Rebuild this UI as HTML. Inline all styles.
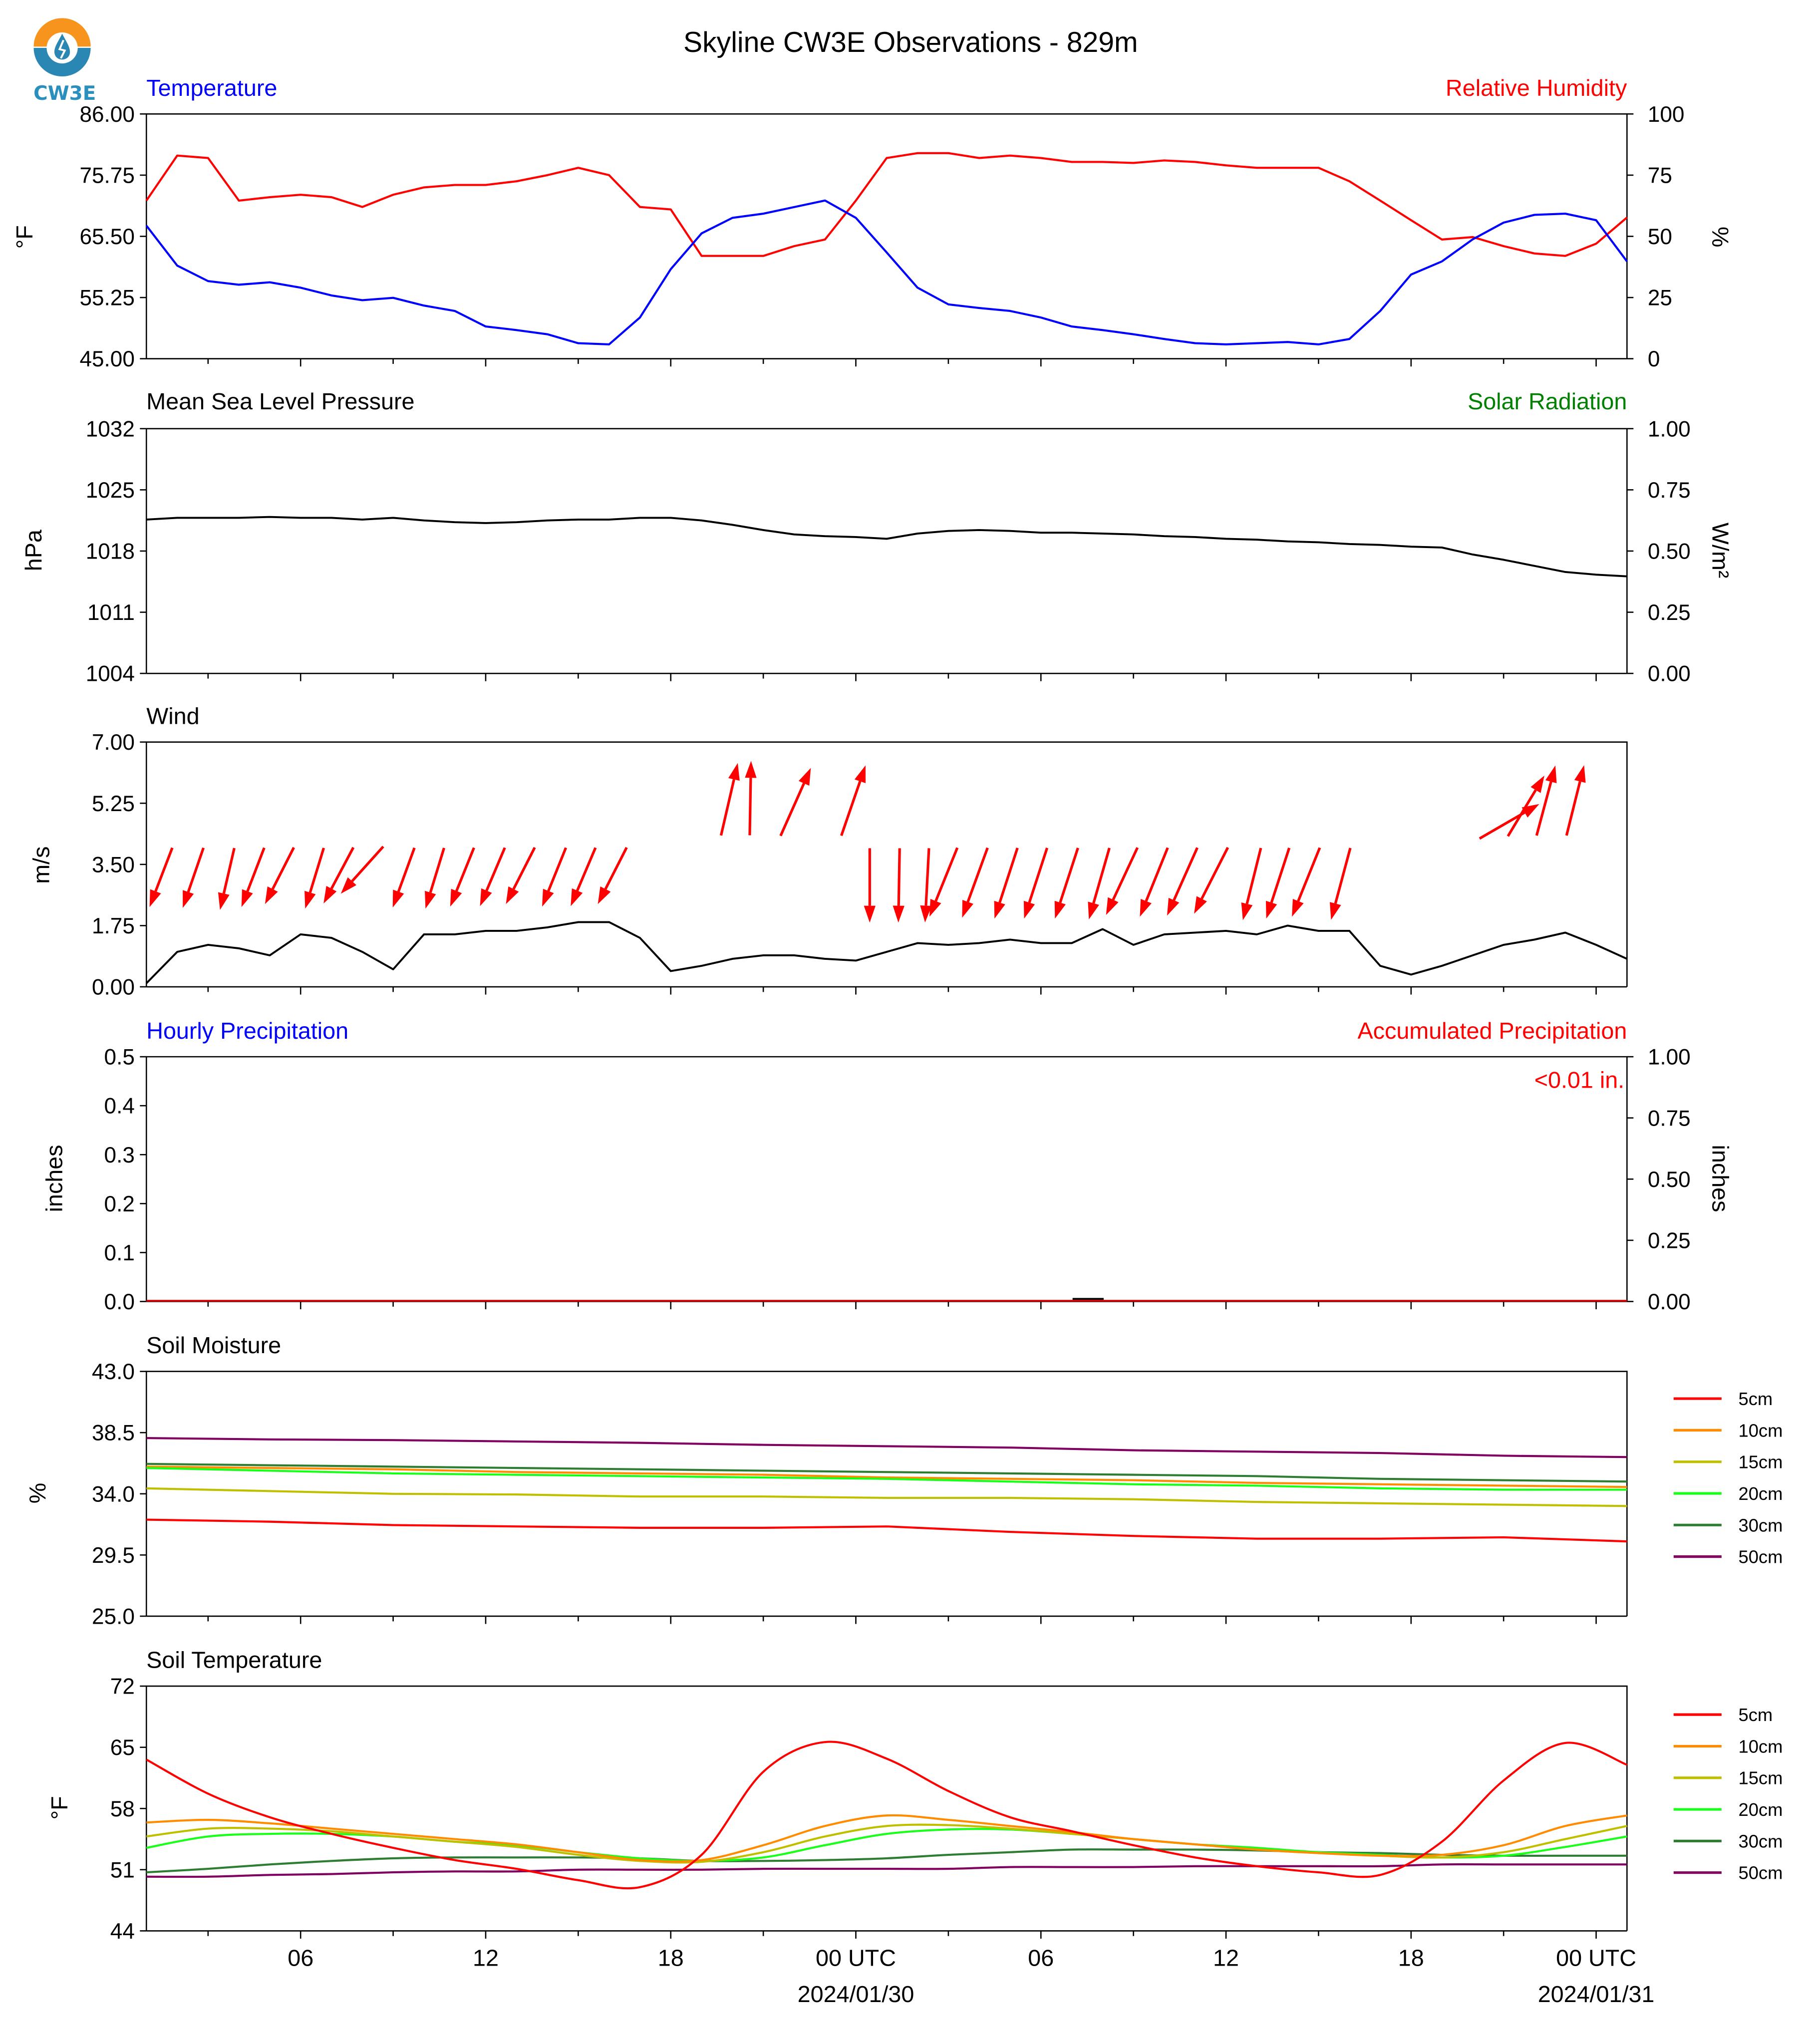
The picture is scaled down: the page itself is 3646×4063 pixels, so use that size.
<!DOCTYPE html>
<html><head><meta charset="utf-8"><style>
html,body{margin:0;padding:0;background:#fff}
svg{display:block;font-family:"Liberation Sans",sans-serif}
</style></head><body>
<svg id="chart" width="3646" height="4063" viewBox="0 0 1405 1566" preserveAspectRatio="none" xmlns="http://www.w3.org/2000/svg">
<rect x="0" y="0" width="1405" height="1566" fill="#fff"/>
<g>
<path d="M26,36 A22,22 0 0 1 70,36 Z" fill="#f7941d"/>
<path d="M26,37 A22,22 0 0 0 70,37 Z" fill="#2a86b3"/>
<circle cx="48" cy="37" r="12" fill="#fff"/>
<path d="M48,26 C45,32 42,36 42,40 C42,44 45,46 48,46 C51,46 54,44 54,40 C54,36 51,32 48,26 Z" fill="#2a86b3"/>
<path d="M49,31 L46,38 L50,39 L47,45" stroke="#fff" stroke-width="1.5" fill="none"/>
<text x="50" y="77" font-size="15" font-weight="bold" fill="#2a8fbd" text-anchor="middle" font-family="'DejaVu Sans',sans-serif">CW3E</text>
</g>
<text x="703" y="40" font-size="22" text-anchor="middle">Skyline CW3E Observations - 829m</text>
<g id="plots"></g>
</svg>
<script>
// ---- data (hourly, starting 2024/01/29 01 UTC) ----
const tempF = [67.3,60.6,58.0,57.4,57.8,56.9,55.6,54.8,55.2,53.9,53.0,50.4,49.8,49.1,47.6,47.4,51.9,60.0,66.0,68.6,69.3,70.4,71.5,68.6,62.8,56.9,54.1,53.5,53.0,51.9,50.4,49.8,49.1,48.3,47.6,47.4,47.6,47.8,47.4,48.3,53.0,59.1,61.3,65.0,67.8,69.1,69.3,68.2,61.3];
const rhPct = [64.6,83,82,64.6,66,67,66,62,67,70,71,71,72.5,75,78,75,62,61,42,42,42,46,48.7,64.6,82,84,84,82,83,82,80.4,80.4,80,81,80.4,79,78,78,78,72.5,64.6,56.6,48.7,49.7,46,43,42,47,57.7];
const mslp = [1021.6,1021.8,1021.8,1021.8,1021.9,1021.8,1021.8,1021.6,1021.8,1021.5,1021.3,1021.2,1021.3,1021.5,1021.6,1021.6,1021.8,1021.8,1021.5,1021.0,1020.4,1019.9,1019.7,1019.6,1019.4,1020.0,1020.3,1020.4,1020.3,1020.1,1020.1,1020.0,1019.9,1019.7,1019.6,1019.4,1019.3,1019.1,1019.0,1018.8,1018.7,1018.5,1018.4,1017.6,1017.0,1016.3,1015.6,1015.3,1015.1];
const windSpd = [0.1,1.0,1.2,1.1,0.9,1.5,1.4,1.0,0.5,1.5,1.5,1.6,1.6,1.7,1.85,1.85,1.4,0.45,0.6,0.8,0.9,0.9,0.8,0.75,1.0,1.25,1.2,1.25,1.35,1.25,1.25,1.65,1.2,1.5,1.55,1.6,1.5,1.75,1.6,1.6,0.6,0.35,0.6,0.9,1.2,1.35,1.55,1.2,0.8];
const arrowHour = [0.84,1.85,2.85,3.82,4.78,5.75,6.71,7.68,8.69,9.65,10.62,11.62,12.59,13.60,14.56,15.57,18.63,19.56,20.56,22.53,23.45,24.42,25.37,26.29,27.27,28.24,29.2,30.2,31.22,32.13,33.11,34.07,35.06,36.13,37.05,38.04,39.03,43.22,44.14,45.07,46.04];
const arrowDir = [201,199,193,201,207,197,208,222,200,197,202,203,207,202,203,207,13,1,24,19,180,181,183,202,200,198,198,198,196,205,202,204,207,194,198,202,195,60,31,15,14];
const arrowMag = [3.5,3.5,3.5,3.5,3.5,3.5,3.5,3.5,3.5,3.5,3.5,3.5,3.5,3.5,3.5,3.5,4.1,4.1,4.1,4.1,4.1,4.1,4.1,4.1,4.1,4.1,4.1,4.1,4.1,4.1,4.1,4.1,4.1,4.1,4.1,4.1,4.1,3.8,3.9,4.0,4.0];
const smHours = [0,4,8,12,16,20,24,28,32,36,40,44,48];
const sm5 = [32.1,31.95,31.7,31.6,31.5,31.5,31.6,31.2,30.9,30.7,30.7,30.8,30.5];
const sm10 = [36.0,35.9,35.8,35.6,35.5,35.4,35.2,35.1,35.0,34.8,34.7,34.6,34.5];
const sm15 = [34.4,34.2,34.0,33.95,33.8,33.8,33.7,33.7,33.6,33.4,33.3,33.2,33.1];
const sm20 = [35.9,35.7,35.5,35.4,35.3,35.2,35.1,34.9,34.7,34.6,34.4,34.3,34.3];
const sm30 = [36.2,36.1,36.0,35.9,35.8,35.7,35.6,35.5,35.4,35.3,35.1,35.0,34.9];
const sm50 = [38.1,38.0,37.95,37.85,37.75,37.6,37.5,37.4,37.2,37.1,37.0,36.8,36.7];
const stHours = [0,2,4,6,8,10,12,14,16,18,20,22,24,26,28,30,32,34,36,38,40,42,44,46,48];
const st5 = [63.6,59.7,57.0,55.1,53.5,52.1,51.1,49.8,49.0,52.7,62.2,65.6,63.7,60.0,57.0,55.4,53.8,52.4,51.4,50.7,50.4,54.2,61.2,65.5,63.0];
const st10 = [56.4,56.7,56.3,55.7,55.1,54.5,53.9,53.0,52.1,52.1,53.8,56.0,57.2,56.7,56.0,55.3,54.5,53.9,53.3,52.9,52.6,52.7,53.8,56.0,57.2];
const st15 = [54.8,55.7,55.7,55.4,54.8,54.2,53.6,52.7,52.0,51.9,53.0,54.8,56.0,56.1,55.7,55.1,54.5,53.9,53.3,52.9,52.6,52.4,53.0,54.5,56.0];
const st20 = [53.5,54.8,55.1,55.1,54.8,54.2,53.8,53.0,52.3,52.0,52.4,53.8,55.1,55.6,55.6,55.1,54.5,53.9,53.5,53.0,52.7,52.4,52.6,53.6,54.8];
const st30 = [50.7,51.1,51.6,52.0,52.3,52.4,52.4,52.4,52.3,52.0,52.0,52.1,52.3,52.7,53.0,53.3,53.3,53.3,53.2,53.0,52.9,52.7,52.6,52.6,52.6];
const st50 = [50.2,50.2,50.4,50.5,50.7,50.8,50.8,51.0,51.0,51.0,51.1,51.1,51.1,51.1,51.3,51.3,51.3,51.4,51.4,51.4,51.4,51.6,51.6,51.6,51.6];
const depthLabels = ["5cm","10cm","15cm","20cm","30cm","50cm"];
const depthColors = ["#ff0000","#ff8c00","#bfbf00","#19ff19","#2e7d32","#800060"];
const tTicks = ["86.00","75.75","65.50","55.25","45.00"];
const rhTicks = ["100","75","50","25","0"];
const pTicks = ["1032","1025","1018","1011","1004"];
const srTicks = ["1.00","0.75","0.50","0.25","0.00"];
const wTicks = ["7.00","5.25","3.50","1.75","0.00"];
const hpTicks = ["0.5","0.4","0.3","0.2","0.1","0.0"];
const apTicks = ["1.00","0.75","0.50","0.25","0.00"];
const smTicks = ["43.0","38.5","34.0","29.5","25.0"];
const stTicks = ["72","65","58","51","44"];
const xMajorHours = [5,11,17,23,29,35,41,47];
const xMajorLabels = ["06","12","18","00 UTC","06","12","18","00 UTC"];
const xDateLabels = ["","","","2024/01/30","","","","2024/01/31"];

const NS="http://www.w3.org/2000/svg";
const root=document.getElementById('plots');
const X0=113,X1=1256,H=189;
const xs=h=>X0+h*(X1-X0)/48;
function el(tag,attrs,parent){const e=document.createElementNS(NS,tag);for(const k in attrs)e.setAttribute(k,attrs[k]);(parent||root).appendChild(e);return e;}
function txt(s,attrs,parent){const e=el('text',attrs,parent);e.textContent=s;return e;}
function mkY(top,min,max){return v=>top+H-(v-min)/(max-min)*H;}
function line(hours,vals,ys,color,w,name,g,smooth){
  const P=vals.map((v,i)=>[xs(hours?hours[i]:i),ys(v)]);
  let d='M'+P[0][0].toFixed(2)+','+P[0][1].toFixed(2);
  for(let i=1;i<P.length;i++){
    if(smooth){const p0=P[Math.max(i-2,0)],p1=P[i-1],p2=P[i],p3=P[Math.min(i+1,P.length-1)];
      const c1=[p1[0]+(p2[0]-p0[0])/6,p1[1]+(p2[1]-p0[1])/6],c2=[p2[0]-(p3[0]-p1[0])/6,p2[1]-(p3[1]-p1[1])/6];
      d+=`C${c1[0].toFixed(2)},${c1[1].toFixed(2)} ${c2[0].toFixed(2)},${c2[1].toFixed(2)} ${p2[0].toFixed(2)},${p2[1].toFixed(2)}`;}
    else d+='L'+P[i][0].toFixed(2)+','+P[i][1].toFixed(2);}
  const p=el('path',{d:d,fill:'none',stroke:color,'stroke-width':w,'stroke-linejoin':'round'},g);
  
  
  return p;
}
function panel(top,name,leftTicks,rightTicks){
  const g=el('g',{});
  
  
  el('path',{d:`M${X0},${top+H}L${X0},${top}L${X1},${top}L${X1},${top+H}`,fill:'none',stroke:'#000','stroke-width':1},g);
  el('line',{x1:X0,y1:top+H,x2:X1,y2:top+H,stroke:'#000','stroke-width':1},g);
  const n=leftTicks.length;
  leftTicks.forEach((t,i)=>{const y=top+i*H/(n-1);
    el('line',{x1:X0-5,y1:y,x2:X0,y2:y,stroke:'#000'},g);
    const tl=txt(t,{x:X0-9,y:y+6,'font-size':17,'text-anchor':'end'},g);
    
    });
  if(rightTicks){const m=rightTicks.length;rightTicks.forEach((t,i)=>{const y=top+i*H/(m-1);
    el('line',{x1:X1,y1:y,x2:X1+5,y2:y,stroke:'#000'},g);
    const tr=txt(t,{x:X1+16,y:y+6,'font-size':17},g);
    
    });}
  for(let h=2;h<=47;h+=3){const x=xs(h);const major=xMajorHours.includes(h);
    el('line',{x1:x,y1:top+H,x2:x,y2:top+H+(major?6:4),stroke:'#000'},g);}
  return g;
}
function title(s,x,y,color,anchor,g){const t=txt(s,{x:x,y:y,'font-size':18,fill:color,'text-anchor':anchor||'start'},g);
  
  }
function ylab(s,x,y,rot,g){const t=txt(s,{x:0,y:0,'font-size':18,'text-anchor':'middle',transform:`translate(${x},${y}) rotate(${rot})`},g);
  
  }
function legend(top,g){depthLabels.forEach((lab,i)=>{const y=top+i*24.4;
  const lg=el('g',{},g);
  
  
  el('line',{x1:1292,y1:y,x2:1329,y2:y,stroke:depthColors[i],'stroke-width':2},lg);
  txt(lab,{x:1342,y:y+5,'font-size':14},lg);});}

// Panel 1
let T=88,g=panel(T,'temperature-rh-panel',tTicks,rhTicks);
title('Temperature',X0,74,'#0000ff','start',g);title('Relative Humidity',X1,74,'#ff0000','end',g);
ylab('°F',25,183,-90,g);ylab('%',1322,183,90,g);
line(null,rhPct,mkY(T,0,100),'#ff0000',1.6,'rh-line',g);
line(null,tempF,mkY(T,45,86),'#0000ff',1.6,'temperature-line',g);
// Panel 2
T=331;g=panel(T,'pressure-panel',pTicks,srTicks);
title('Mean Sea Level Pressure',X0,316,'#000','start',g);title('Solar Radiation',X1,316,'#008000','end',g);
ylab('hPa',32,425,-90,g);ylab('W/m²',1322,425,90,g);
line(null,mslp,mkY(T,1004,1032),'#000',1.5,'pressure-line',g);
// Panel 3
T=573;g=panel(T,'wind-panel',wTicks,null);
title('Wind',X0,559,'#000','start',g);ylab('m/s',38,668,-90,g);
const wy=mkY(T,0,7);
line(null,windSpd,wy,'#000',1.5,'wind-speed-line',g);
arrowHour.forEach((h,i)=>{const r=arrowDir[i]*Math.PI/180,L=arrowMag[i]*14;
  const x0=xs(h),y0=650-5*Math.cos(r);const dx=L*Math.sin(r),dy=-L*Math.cos(r);
  const x1=x0+dx,y1=y0+dy;const ux=dx/L,uy=dy/L;const hl=13,hw=4.5;
  const bx=x1-ux*hl,by=y1-uy*hl;
  const a=el('g',{},g);
  
  
  el('line',{x1:x0,y1:y0,x2:bx,y2:by,stroke:'#ff0000','stroke-width':2},a);
  el('polygon',{points:`${x1},${y1} ${bx-uy*hw},${by+ux*hw} ${bx+uy*hw},${by-ux*hw}`,fill:'#ff0000'},a);});
// Panel 4
T=816;g=panel(T,'precipitation-panel',hpTicks,apTicks);
title('Hourly Precipitation',X0,802,'#0000ff','start',g);title('Accumulated Precipitation',X1,802,'#ff0000','end',g);
ylab('inches',48,910,-90,g);ylab('inches',1322,910,90,g);
txt('<0.01 in.',{x:1254,y:840,'font-size':18,fill:'#ff0000','text-anchor':'end'},g);
el('line',{x1:828,y1:1003,x2:852,y2:1003,stroke:'#000','stroke-width':1.5},g);
el('line',{x1:X0,y1:1004.5,x2:X1,y2:1004.5,stroke:'#cc0000','stroke-width':1.5},g);
// Panel 5
T=1059;g=panel(T,'soil-moisture-panel',smTicks,null);
title('Soil Moisture',X0,1045,'#000','start',g);ylab('%',35,1153,-90,g);
const smy=mkY(T,25,43);
[sm5,sm10,sm15,sm20,sm30,sm50].forEach((s,i)=>line(smHours,s,smy,depthColors[i],1.6,'soil-moisture-'+depthLabels[i],g,false));
legend(1080,g);
// Panel 6
T=1302;g=panel(T,'soil-temperature-panel',stTicks,null);
title('Soil Temperature',X0,1288,'#000','start',g);ylab('°F',52,1396,-90,g);
const sty=mkY(T,44,72);
[st50,st30,st20,st15,st10,st5].forEach((s,i)=>line(stHours,s,sty,depthColors[5-i],1.6,'soil-temperature-'+depthLabels[5-i],g,true));
legend(1324,g);
xMajorHours.forEach((h,i)=>{const t=txt(xMajorLabels[i],{x:xs(h),y:1518,'font-size':18,'text-anchor':'middle'});
  
  
  if(xDateLabels[i]){const d=txt(xDateLabels[i],{x:xs(h),y:1546,'font-size':18,'text-anchor':'middle'});
  
  }});
</script>
</body></html>
